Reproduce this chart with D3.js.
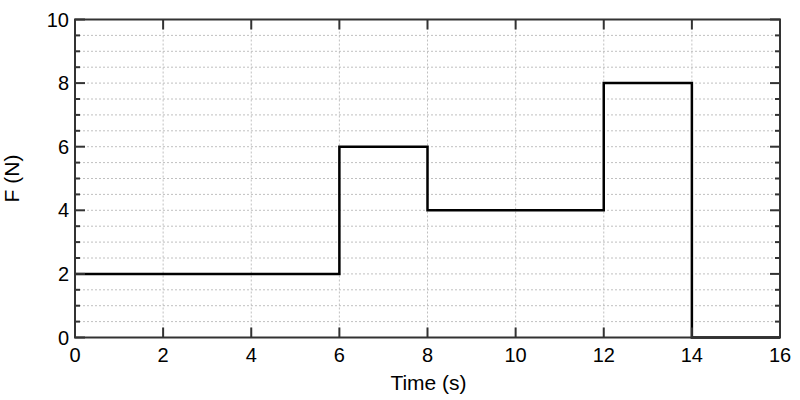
<!DOCTYPE html>
<html><head><meta charset="utf-8">
<script src="https://cdn.jsdelivr.net/npm/d3@7"></script>
<style>body{margin:0;background:#fff}svg{display:block}text{font-family:"Liberation Sans",Arial,sans-serif;fill:#000}</style>
</head><body><svg id="c" width="800" height="400"></svg>
<script>
const times = [0, 6, 6, 8, 8, 12, 12, 14, 14, 16];
const forces = [2, 2, 6, 6, 4, 4, 8, 8, 0, 0];
const xTicks = [0, 2, 4, 6, 8, 10, 12, 14, 16];
const yTicks = [0, 2, 4, 6, 8, 10];
const yMinor = d3.range(0, 10.01, 0.5);

const svg = d3.select("#c");
const L = 75, R = 780, T = 19.5, B = 337.5;
const x = d3.scaleLinear().domain([0, 16]).range([L, R]);
const y = d3.scaleLinear().domain([0, 10]).range([B, T]);

const g = svg.append("g");
// grid
g.selectAll(".gy").data(yMinor.filter(v => v > 0 && v < 10)).join("line")
  .attr("x1", L).attr("x2", R).attr("y1", d => y(d)).attr("y2", d => y(d))
  .attr("stroke", "#b0b0b0").attr("stroke-width", 0.8).attr("stroke-dasharray", "2,2");
g.selectAll(".gx").data(xTicks.filter(v => v > 0 && v < 16)).join("line")
  .attr("y1", T).attr("y2", B).attr("x1", d => x(d)).attr("x2", d => x(d))
  .attr("stroke", "#b0b0b0").attr("stroke-width", 0.8).attr("stroke-dasharray", "2,2");

// line
const line = d3.line().x((d, i) => x(times[i])).y(d => y(d));
g.append("path").datum(forces).attr("d", line).attr("fill", "none")
  .attr("stroke", "#000").attr("stroke-width", 2.5).attr("stroke-linejoin", "miter");

// ticks inward
const tickCol = "#333";
const yMaj = yTicks, yMin = yMinor.filter(v => !yTicks.includes(v));
[[L, 1], [R, -1]].forEach(([x0, s]) => {
  g.selectAll(null).data(yMaj).join("line").attr("x1", x0).attr("x2", x0 + s * 10)
    .attr("y1", d => y(d)).attr("y2", d => y(d)).attr("stroke", tickCol).attr("stroke-width", 2);
  g.selectAll(null).data(yMin).join("line").attr("x1", x0).attr("x2", x0 + s * 5)
    .attr("y1", d => y(d)).attr("y2", d => y(d)).attr("stroke", tickCol).attr("stroke-width", 2);
});
[[B, -1], [T, 1]].forEach(([y0, s]) => {
  g.selectAll(null).data(xTicks).join("line").attr("y1", y0).attr("y2", y0 + s * 10)
    .attr("x1", d => x(d)).attr("x2", d => x(d)).attr("stroke", tickCol).attr("stroke-width", 2);
});
// frame
g.append("rect").attr("x", L).attr("y", T).attr("width", R - L).attr("height", B - T)
  .attr("fill", "none").attr("stroke", tickCol).attr("stroke-width", 2);

// labels
g.selectAll(null).data(xTicks).join("text").attr("x", d => x(d)).attr("y", B + 24)
  .attr("text-anchor", "middle").attr("font-size", 20).text(d => d);
g.selectAll(null).data(yTicks).join("text").attr("x", L - 6).attr("y", d => y(d) + 7)
  .attr("text-anchor", "end").attr("font-size", 20).text(d => d);
svg.append("text").attr("x", (L + R) / 2 + 1).attr("y", 390).attr("text-anchor", "middle")
  .attr("font-size", 21).text("Time (s)");
svg.append("text").attr("transform", `translate(19,${(T + B) / 2}) rotate(-90)`)
  .attr("text-anchor", "middle").attr("font-size", 21).text("F (N)");
</script></body></html>
